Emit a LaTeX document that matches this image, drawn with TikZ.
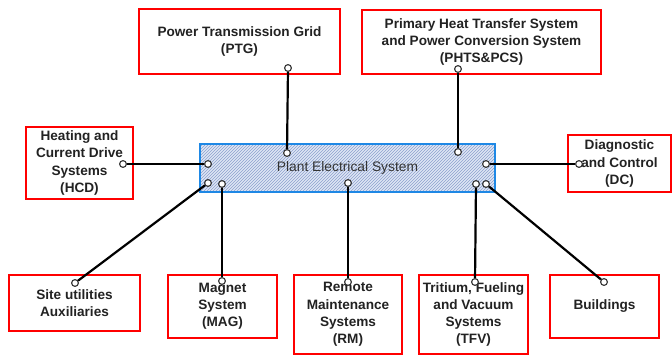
\documentclass[tikz,border=0pt]{standalone}
\usepackage{fontspec}
\setmainfont{Liberation Sans}
\usetikzlibrary{patterns}
\definecolor{boxred}{RGB}{255,0,0}
\definecolor{pesblue}{RGB}{30,136,229}
\definecolor{pesfill}{RGB}{222,230,245}
\definecolor{peshatch}{RGB}{140,160,205}
\definecolor{txtdark}{RGB}{34,34,34}
\definecolor{portgray}{RGB}{50,50,50}
\begin{document}
\begin{tikzpicture}[x=1pt,y=-1pt,
  sysbox/.style={draw=boxred,line width=2.2pt,rectangle,inner sep=0pt,align=center,
     text=txtdark,font=\fontsize{13.6}{17.2}\selectfont\bfseries},
  pesbox/.style={draw=pesblue,line width=2pt,rectangle,inner sep=0pt,
     preaction={fill=pesfill},pattern=north east lines,pattern color=peshatch,
     text=black!80,font=\fontsize{13.8}{17}\selectfont},
  port/.style={circle,draw=portgray,fill=white,line width=1.1pt,minimum size=6.8pt,inner sep=0pt},
  conn/.style={draw=black,line width=2.2pt}]
\useasboundingbox (0,0) rectangle (672,356);

% boxes
\node[sysbox,minimum width=201pt,minimum height=65pt] (ptg) at (239.5,41.5) {Power Transmission Grid\\(PTG)};
\node[sysbox,minimum width=239pt,minimum height=64pt] (phts) at (481.5,42) {Primary Heat Transfer System\\and Power Conversion System\\(PHTS\&PCS)};
\node[sysbox,minimum width=107pt,minimum height=72pt] (hcd) at (79.5,163) {Heating and\\Current Drive\\Systems\\(HCD)};
\node[sysbox,minimum width=103pt,minimum height=57pt] (dc) at (619.5,163.5) {Diagnostic\\and Control\\(DC)};
\node[pesbox,minimum width=295pt,minimum height=48pt] (pes) at (347.5,168) {Plant Electrical System};
\node[sysbox,minimum width=131pt,minimum height=56pt] (site) at (74.5,303) {Site utilities\\Auxiliaries};
\node[sysbox,minimum width=109pt,minimum height=63pt] (mag) at (222.5,306.5) {Magnet\\System\\(MAG)};
\node[sysbox,minimum width=108pt,minimum height=79pt] (rm) at (348,314.5) {Remote\\Maintenance\\Systems\\(RM)};
\node[sysbox,minimum width=109pt,minimum height=79pt] (tfv) at (473.5,314.5) {Tritium, Fueling\\and Vacuum\\Systems\\(TFV)};
\node[sysbox,minimum width=109pt,minimum height=63pt] (bld) at (604.5,306.5) {Buildings};

% ports on the central box
\node[port] (hcdC) at (208,164) {};
\node[port] (siteC) at (208,183) {};
\node[port] (magC) at (222,184) {};
\node[port] (ptgC) at (287,153) {};
\node[port] (rmC) at (348,183) {};
\node[port] (phtsC) at (458,152) {};
\node[port] (dcC) at (486,164) {};
\node[port] (tfvC) at (476,184) {};
\node[port] (bldC) at (486,184) {};

% ports on the outer boxes
\node[port] (hcdP) at (123,164) {};
\node[port] (siteP) at (75,283) {};
\node[port] (magP) at (222,281) {};
\node[port] (ptgP) at (288,68) {};
\node[port] (phtsP) at (458,69) {};
\node[port] (dcP) at (579,164) {};
\node[port] (rmP) at (348,282) {};
\node[port] (tfvP) at (475,282) {};
\node[port] (bldP) at (604,282) {};

% connectors
\draw[conn] (hcdP) -- (hcdC);
\draw[conn] (siteP) -- (siteC);
\draw[conn] (magP) -- (magC);
\draw[conn] (ptgP) -- (ptgC);
\draw[conn] (phtsP) -- (phtsC);
\draw[conn] (dcC) -- (dcP);
\draw[conn] (rmP) -- (rmC);
\draw[conn] (tfvP) -- (tfvC);
\draw[conn] (bldP) -- (bldC);
\end{tikzpicture}
\end{document}
